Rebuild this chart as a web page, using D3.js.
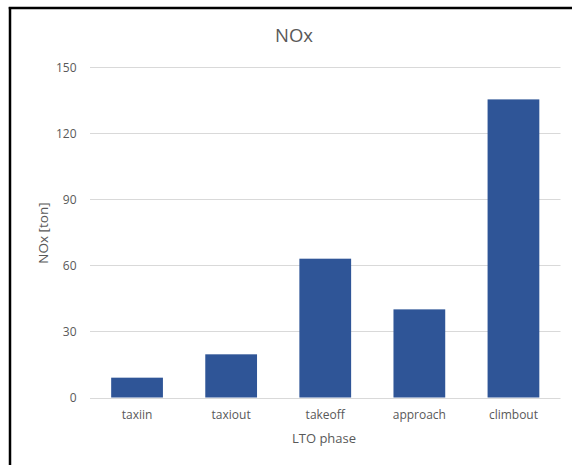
<!DOCTYPE html>
<html>
<head>
<meta charset="utf-8">
<script src="https://cdn.jsdelivr.net/npm/d3@7"></script>
<style>
  html, body { margin: 0; padding: 0; background: #fff; }
  svg { display: block; }
  text { font-family: "Open Sans", sans-serif; fill: #595959; }
</style>
</head>
<body>
<svg id="chart" width="572" height="465"></svg>
<script>
// NOx emissions per LTO phase
const categories = ["taxiin", "taxiout", "takeoff", "approach", "climbout"];
const values = [9, 19.6, 63, 40, 135.3];
const yTicks = [0, 30, 60, 90, 120, 150];
const title = "NOx";
const yLabel = "NOx [ton]";
const xLabel = "LTO phase";

const svg = d3.select("#chart");
const W = 572, H = 465;
const plot = { left: 90, right: 560.5, top: 67, bottom: 397.5 };

svg.append("rect").attr("width", W).attr("height", H).attr("fill", "#fff");

// frame (left and top edges)
svg.append("line").attr("x1", 10).attr("x2", 10).attr("y1", 7).attr("y2", H)
  .attr("stroke", "#000").attr("stroke-width", 2.5);
svg.append("line").attr("x1", 8.75).attr("x2", W).attr("y1", 8).attr("y2", 8)
  .attr("stroke", "#000").attr("stroke-width", 2.5);

const x = d3.scaleBand().domain(categories)
  .range([plot.left, plot.right]).paddingInner(0.45).paddingOuter(0.225);
const y = d3.scaleLinear().domain([0, 150]).range([plot.bottom, plot.top]);

// gridlines
svg.append("g").selectAll("line").data(yTicks).join("line")
  .attr("x1", plot.left).attr("x2", plot.right)
  .attr("y1", d => Math.round(y(d)) + 0.5).attr("y2", d => Math.round(y(d)) + 0.5)
  .attr("stroke", "#d9d9d9").attr("stroke-width", 1);

// y tick labels
const yAxis = d3.axisLeft(y).tickValues(yTicks).tickSize(0).tickPadding(0);
const yg = svg.append("g").attr("transform", `translate(${plot.left - 13.5},0)`).call(yAxis);
yg.select(".domain").remove();
yg.selectAll("text").attr("font-size", 12).style("font-family", null)
  .attr("fill", "#595959").attr("dy", "0.36em");

// bars
svg.append("g").selectAll("rect").data(values).join("rect")
  .attr("x", (d, i) => x(categories[i]))
  .attr("width", x.bandwidth())
  .attr("y", d => y(d))
  .attr("height", d => y(0) - y(d))
  .attr("fill", "#2F5597");

// x tick labels
const xAxis = d3.axisBottom(x).tickSize(0).tickPadding(0);
const xg = svg.append("g").attr("transform", `translate(0,${plot.bottom})`).call(xAxis);
xg.select(".domain").remove();
xg.selectAll("text").attr("font-size", 12).style("font-family", null)
  .attr("fill", "#595959").attr("dy", null).attr("y", 21.5);

// title
svg.append("text").attr("x", 294).attr("y", 42).attr("text-anchor", "middle")
  .attr("font-size", 18.5).text(title);

// axis titles
svg.append("text").attr("transform", "translate(48,233) rotate(-90)")
  .attr("text-anchor", "middle").attr("font-size", 13.5).text(yLabel);
svg.append("text").attr("x", 324).attr("y", 443).attr("text-anchor", "middle")
  .attr("font-size", 13).text(xLabel);
</script>
</body>
</html>
